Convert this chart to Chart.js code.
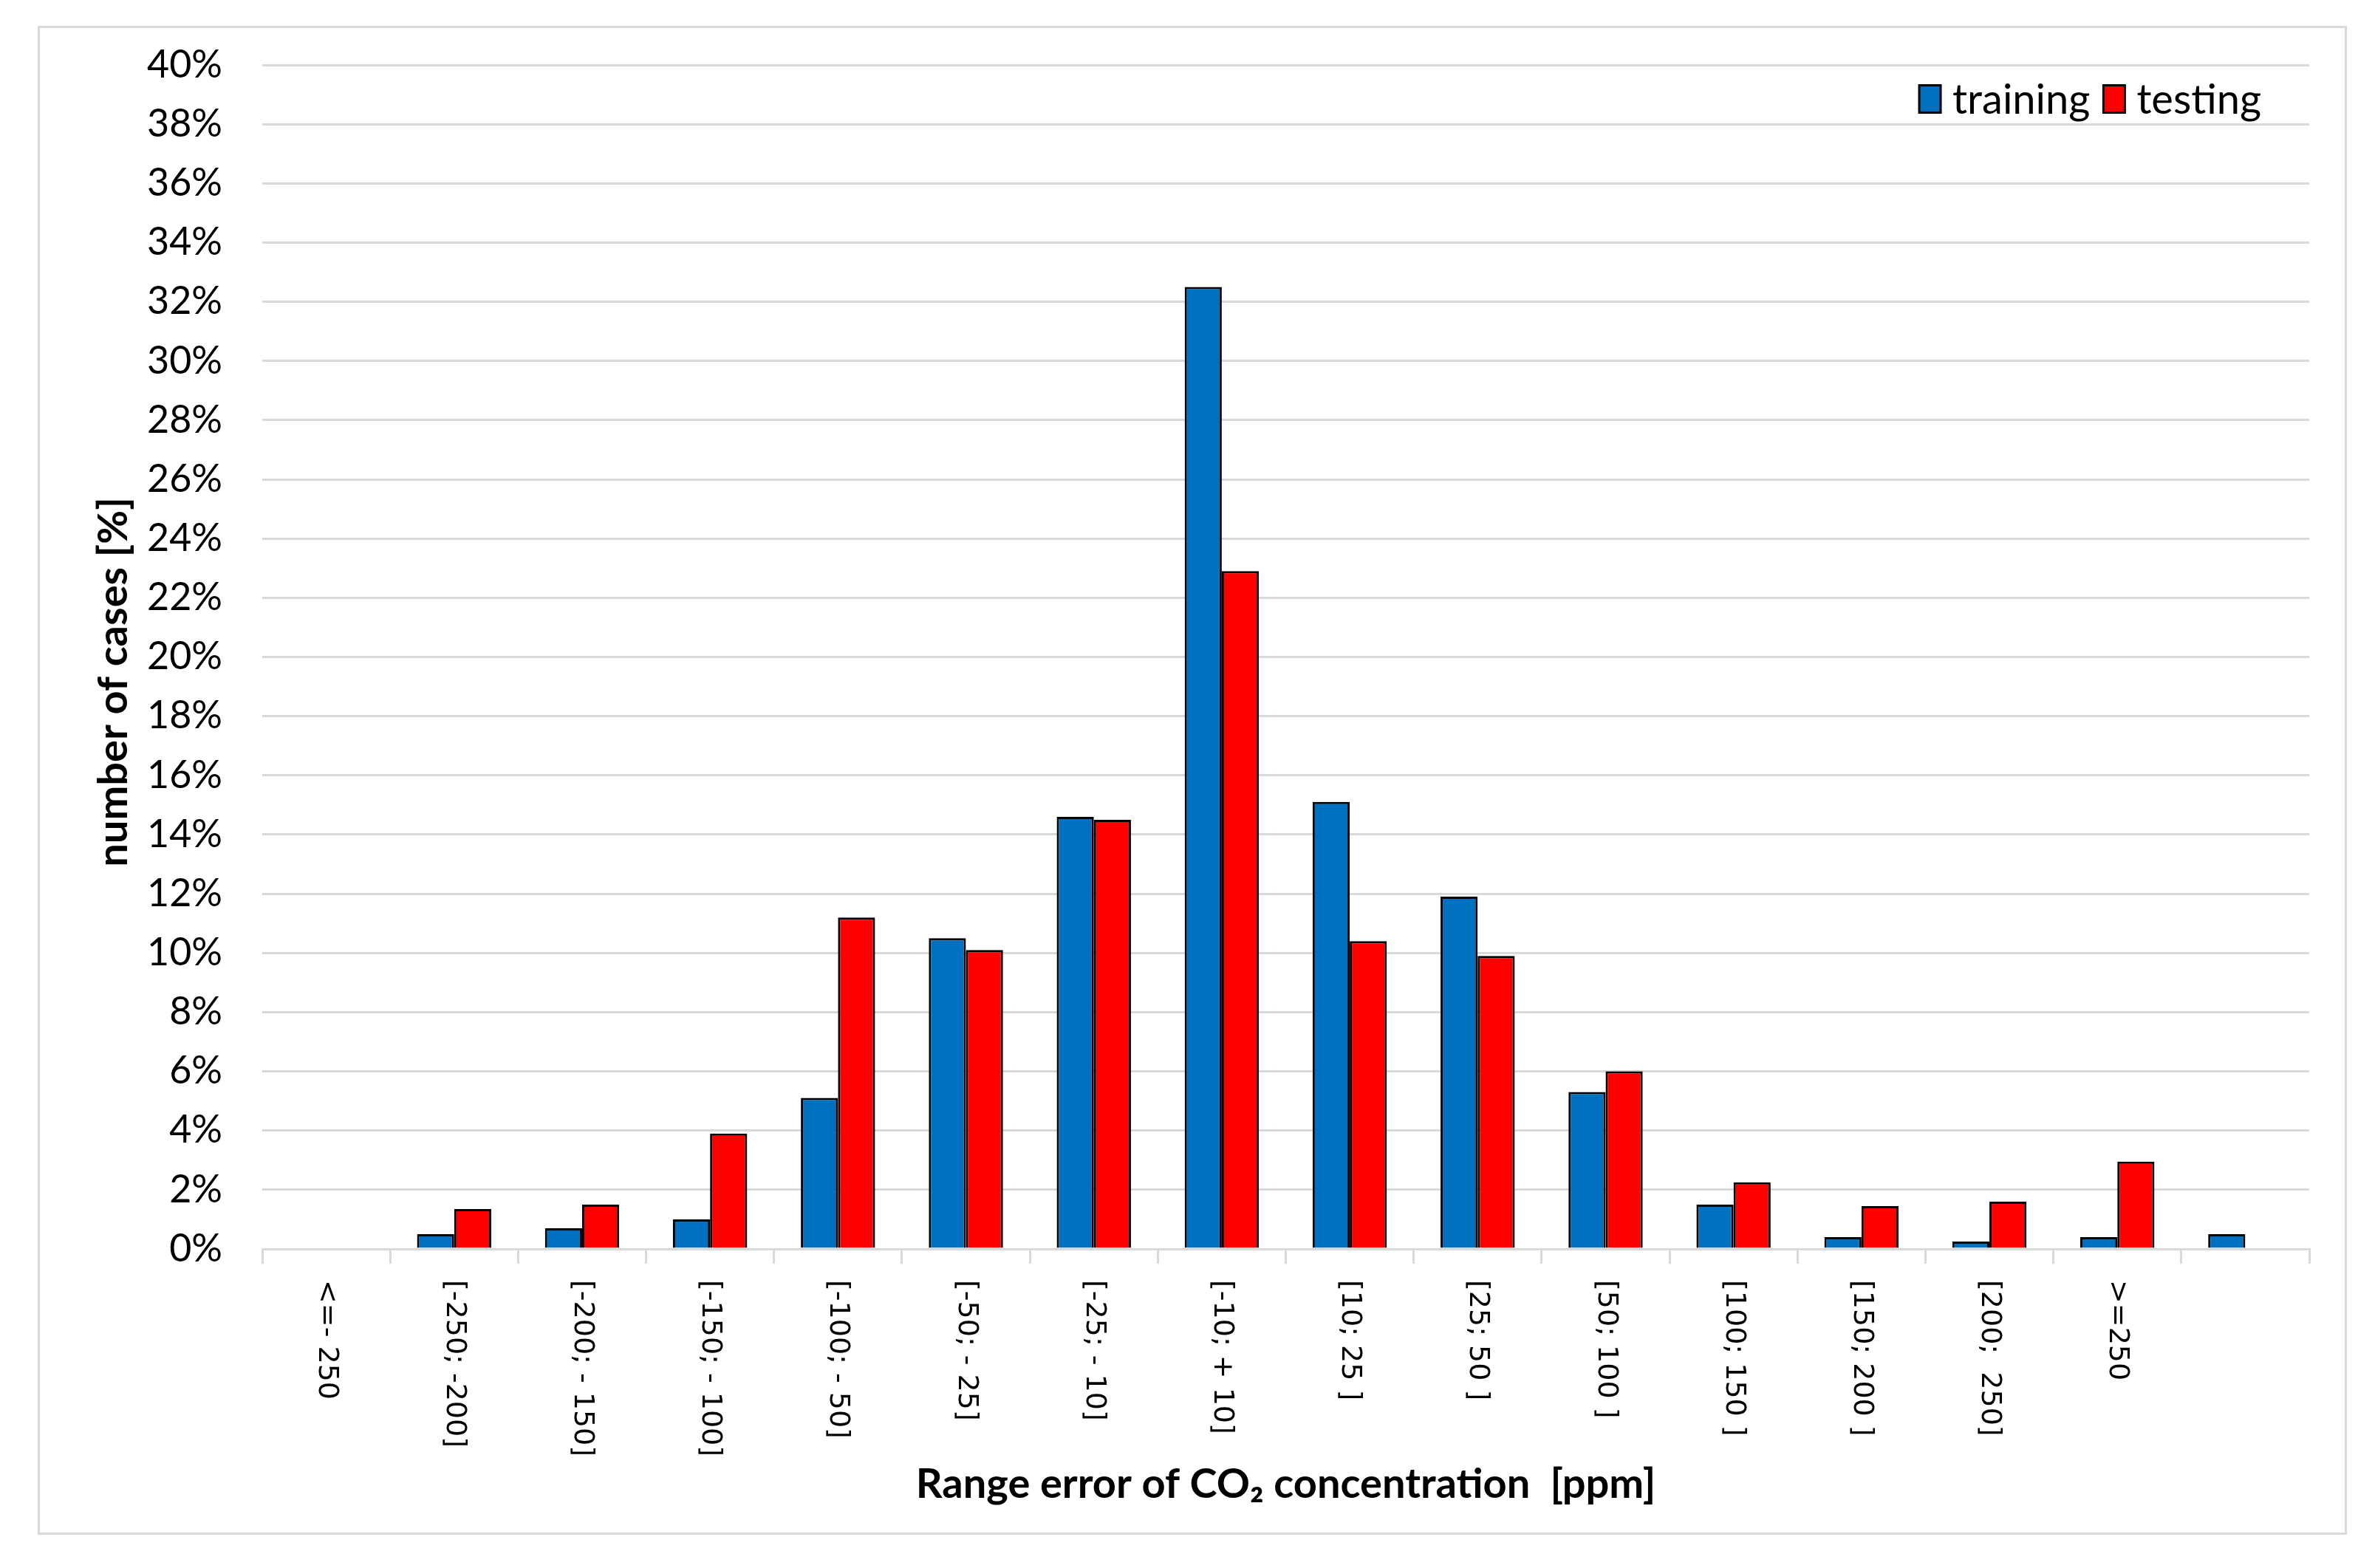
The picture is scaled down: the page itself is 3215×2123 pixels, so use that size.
<!DOCTYPE html>
<html>
<head>
<meta charset="utf-8">
<script src="https://cdn.jsdelivr.net/npm/chart.js@4.4.1/dist/chart.umd.min.js"></script>
<style>
  html, body { margin: 0; padding: 0; background: #fff; }
  #frame { position: absolute; left: 51px; top: 35px; width: 3120px; height: 2037px; border: 3px solid #d9d9d9; }
  canvas { display: block; }
</style>
</head>
<body>
<div id="frame"><canvas id="errChart"></canvas></div>
<script>
// error ranges (last slot has no label in the original figure)
const rangeLabels = ['<=- 250', '[-250; -200]', '[-200; - 150]', '[-150; - 100]', '[-100; - 50]', '[-50; - 25]',
  '[-25; - 10]', '[-10; + 10]', '[10; 25 ]', '[25; 50 ]', '[50; 100 ]', '[100; 150 ]', '[150; 200 ]',
  '[200;  250]', '>=250', '']
const training = [null, 0.5, 0.7, 1.0, 5.1, 10.5, 14.6, 32.5, 15.1, 11.9, 5.3, 1.5, 0.4, 0.25, 0.4, 0.5]
const testing = [null, 1.35, 1.5, 3.9, 11.2, 10.1, 14.5, 22.9, 10.4, 9.9, 6.0, 2.25, 1.45, 1.6, 2.95, null]
const yMax = 40
const yStep = 2

const xTitle = 'Range error of CO\u2082 concentration  [ppm]'
const yTitle = 'number of cases [%]'

// x labels read top-to-bottom, which Chart.js can't rotate that way, so draw them here
// (the y title too, it sits a bit below the plot's middle in the original)
const rotatedLabels = {
  id: 'rotatedLabels',
  afterDraw(chart) {
    const { ctx, chartArea } = chart
    const x = chart.scales.x
    ctx.save()
    ctx.font = '38px "DejaVu Sans"'
    ctx.fillStyle = '#000'
    ctx.textAlign = 'left'
    ctx.textBaseline = 'middle'
    rangeLabels.forEach((lbl, i) => {
      if (!lbl) return
      ctx.save()
      ctx.translate(x.getPixelForValue(i), chartArea.bottom + 42)
      ctx.rotate(Math.PI / 2)
      ctx.fillText(lbl, 0, 0)
      ctx.restore()
    })
    ctx.font = 'bold 56px Lato'
    ctx.textAlign = 'center'
    ctx.translate(100, (chartArea.top + chartArea.bottom) / 2 + 34)
    ctx.rotate(-Math.PI / 2)
    ctx.fillText(yTitle, 0, 0)
    ctx.restore()
  }
}

// legend sits inside the plot, top right, one row
const innerLegend = {
  id: 'innerLegend',
  afterDraw(chart) {
    const { ctx, chartArea } = chart
    const boxW = 29, boxH = 37, gap = 16, itemGap = 18
    ctx.save()
    ctx.font = '56px Lato'
    ctx.textBaseline = 'middle'
    ctx.textAlign = 'left'
    const items = chart.data.datasets.map((ds) => ({ ds, w: ctx.measureText(ds.label).width }))
    const total = items.reduce((s, it) => s + boxW + gap + it.w, 0) + itemGap * (items.length - 1)
    let px = chartArea.right - 65 - total
    const cy = chartArea.top + 46
    items.forEach((it) => {
      ctx.fillStyle = it.ds.backgroundColor
      ctx.fillRect(px, cy - boxH / 2, boxW, boxH)
      ctx.strokeStyle = '#000'
      ctx.lineWidth = 3
      ctx.strokeRect(px, cy - boxH / 2, boxW, boxH)
      ctx.fillStyle = '#000'
      ctx.fillText(it.ds.label, px + boxW + gap, cy + 2)
      px += boxW + gap + it.w + itemGap
    })
    ctx.restore()
  }
}

const cv = document.getElementById('errChart')
cv.width = 3120
cv.height = 2037
cv.style.width = '3120px'
cv.style.height = '2037px'

new Chart(cv, {
  type: 'bar',
  data: {
    labels: rangeLabels,
    datasets: [
      { label: 'training', data: training, backgroundColor: '#0070c0', borderColor: '#000', borderWidth: 3 },
      { label: 'testing', data: testing, backgroundColor: '#ff0000', borderColor: '#000', borderWidth: 3 },
    ],
  },
  options: {
    responsive: false,
    animation: false,
    devicePixelRatio: 1,
    layout: { padding: { top: 50, right: 48, left: 0, bottom: 0 } },
    datasets: { bar: { categoryPercentage: 0.58, barPercentage: 1 } },
    plugins: {
      tooltip: { enabled: false },
      legend: { display: false },
    },
    scales: {
      x: {
        grid: { display: true, drawOnChartArea: false, drawTicks: true, tickLength: 20, color: '#d9d9d9', lineWidth: 3 },
        border: { color: '#d9d9d9', width: 3 },
        ticks: { display: false },
        title: { display: true, text: xTitle, color: '#000', font: { family: 'Lato', size: 56, weight: 'bold' }, padding: { top: 0, bottom: 31 } },
        afterFit(scale) { scale.height = 384 },
      },
      y: {
        min: 0,
        max: yMax,
        grid: { color: '#d9d9d9', lineWidth: 3, drawTicks: false },
        border: { display: false },
        ticks: {
          stepSize: yStep,
          padding: 54,
          color: '#000',
          font: { family: 'Lato', size: 52 },
          callback: (v) => v + '%',
        },
        afterFit(scale) {
          scale.width = 301
          scale.paddingTop = 0
          scale.paddingBottom = 0
        },
      },
    },
  },
  plugins: [rotatedLabels, innerLegend],
})
</script>
</body>
</html>
